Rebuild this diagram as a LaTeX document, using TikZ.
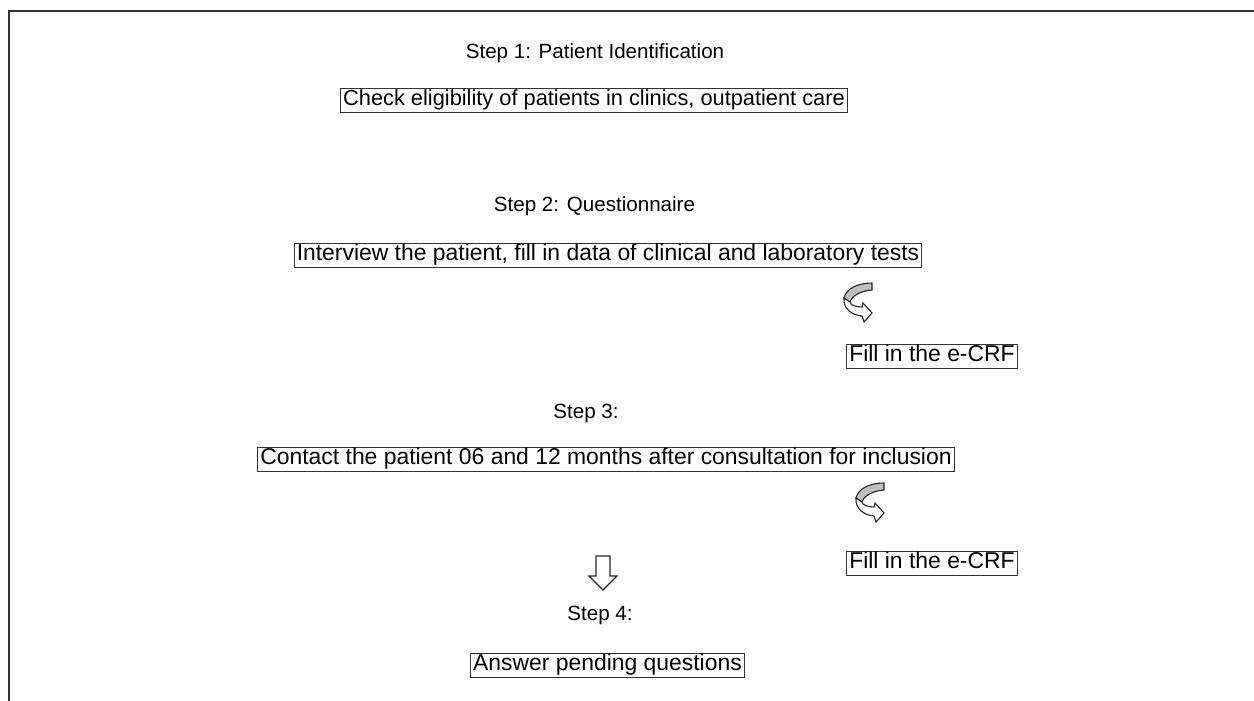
\documentclass[tikz,border=0pt]{standalone}
\usepackage{fontspec}
\setmainfont{Liberation Sans}
\usetikzlibrary{positioning}
\usetikzlibrary{arrows.meta}

\begin{document}
\begin{tikzpicture}[x=0.5pt, y=-0.5pt,
    step title/.style={inner sep=0pt, anchor=base, font=\fontsize{10.3pt}{12pt}\selectfont},
    box/.style={draw=black!80, line width=0.5pt, inner xsep=1.2pt, inner ysep=1.2pt, text height=0.74em, text depth=0.22em, font=\fontsize{11.45pt}{13pt}\selectfont},
    turn/.style={draw=black!85, line width=0.55pt},
    bend/.pic={
        \filldraw[turn, fill=black!25] (29,0) .. controls (14,0) and (3,6) .. (1,15) -- (7,19) .. controls (9,13) and (17,8) .. (29,7) -- cycle;
        \filldraw[turn, fill=white] (1,15) .. controls (0,26) and (9,32) .. (19,33) -- (21,39) -- (29,30) -- (20,20) -- (19,24) .. controls (13,24) and (7,22) .. (7,19) -- cycle;
    }]
    \useasboundingbox (0,0) rectangle (1254,701);
    \draw[black!80, line width=0.8pt] (9,701) -- (9,11) -- (1254,11);

    \node[step title] (s1) at (595,58.5) {Step 1: Patient Identification};
    \node[box, font=\fontsize{10.9pt}{13pt}\selectfont] (b1) at (594,100.5) {Check eligibility of patients in clinics, outpatient care};

    \node[step title] (s2) at (594.5,212) {Step 2: Questionnaire};
    \node[box] (b2) at (608,255) {Interview the patient, fill in data of clinical and laboratory tests};
    \pic at (843,283) {bend};
    \node[box] (e1) at (932,356.5) {Fill in the e-CRF};

    \node[step title] (s3) at (586,418) {Step 3:};
    \node[box] (b3) at (606,459.5) {Contact the patient 06 and 12 months after consultation for inclusion};
    \pic at (855,483) {bend};
    \node[box] (e2) at (932,563) {Fill in the e-CRF};

    \draw[turn] (596,556) -- (596,576) -- (589,576) -- (603,590) -- (617,576) -- (610,576) -- (610,556) -- cycle;

    \node[step title] (s4) at (600,620) {Step 4:};
    \node[box] (b4) at (607.5,665) {Answer pending questions};
\end{tikzpicture}
\end{document}
